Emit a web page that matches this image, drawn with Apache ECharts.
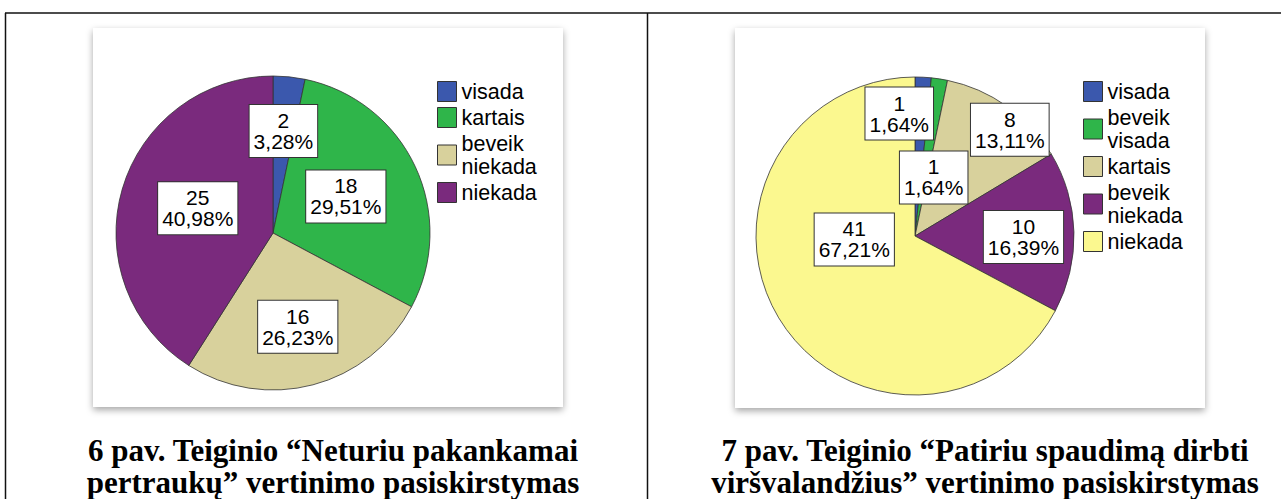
<!DOCTYPE html>
<html><head><meta charset="utf-8">
<script src="https://cdn.jsdelivr.net/npm/echarts@6/dist/echarts.min.js"></script>
<style>html,body{margin:0;padding:0;background:#fff}#c{width:1281px;height:499px}</style>
</head><body><div id="c"></div>
<script>
// ---- data ----
const categories1 = ['visada', 'kartais', 'beveik niekada', 'niekada'];
const values1 = [2, 18, 16, 25];
const categories2 = ['visada', 'beveik visada', 'kartais', 'beveik niekada', 'niekada'];
const values2 = [1, 1, 8, 10, 41];
const caption1 = ['6 pav. Teiginio “Neturiu pakankamai', 'pertraukų” vertinimo pasiskirstymas'];
const caption2 = ['7 pav. Teiginio “Patiriu spaudimą dirbti', 'viršvalandžius” vertinimo pasiskirstymas'];

// ---- styles / layout ----
const colors1 = ['#3b58ad', '#2fb54a', '#d8d19c', '#7a2a7d'];
const colors2 = ['#3b58ad', '#2fb54a', '#d8d19c', '#7a2a7d', '#fbf88f'];
const nudge1 = [[2, -21], [-1, -2], [4, 15], [3, -2]];
const nudge2 = [[-20, -40], [6, 23], [47, -39], [26, 3], [10, -39]];
const SANS = '"Liberation Sans", Arial, sans-serif';
const SERIF = '"Liberation Serif", "Times New Roman", serif';

function fmtPct(v, arr) {
  const total = arr.reduce((a, b) => a + b, 0);
  return (v / total * 100).toFixed(2).replace('.', ',');
}

function pieSeries(cats, vals, colors, nudge, center, radius) {
  return {
    type: 'pie',
    center: center,
    radius: radius,
    startAngle: 90,
    clockwise: true,
    silent: true,
    avoidLabelOverlap: false,
    data: cats.map((n, i) => ({ name: n, value: vals[i], itemStyle: { color: colors[i] } })),
    itemStyle: { borderColor: '#333', borderWidth: 0.8 },
    label: {
      show: true,
      position: 'inside',
      formatter: p => p.value + '\n' + fmtPct(p.value, vals) + '%',
      fontFamily: SANS,
      fontSize: 21,
      lineHeight: 21,
      color: '#000',
      backgroundColor: '#fff',
      borderColor: '#333',
      borderWidth: 1,
      padding: [5, 4, 5, 4],
      align: 'center'
    },
    labelLine: { show: false },
    labelLayout: p => ({ dx: nudge[p.dataIndex][0], dy: nudge[p.dataIndex][1] }),
    emphasis: { disabled: true }
  };
}

function legendCfg(cats, colors, left, top) {
  return {
    orient: 'vertical',
    left: left,
    top: top,
    padding: 0,
    itemGap: 3,
    itemWidth: 19,
    itemHeight: 20,
    icon: 'rect',
    selectedMode: false,
    formatter: n => n.replace(' ', '\n'),
    textStyle: { fontFamily: SANS, fontSize: 21.5, lineHeight: 23, color: '#000' },
    data: cats.map((n, i) => ({ name: n, itemStyle: { color: colors[i], borderColor: '#333', borderWidth: 1 } }))
  };
}

const chart = echarts.init(document.getElementById('c'), null, { renderer: 'svg' });
chart.setOption({
  animation: false,
  backgroundColor: '#fff',
  graphic: [
    { type: 'rect', z: -10, shape: { x: 93, y: 28, width: 470, height: 379 },
      style: { fill: '#fff', shadowBlur: 7, shadowOffsetY: 3, shadowColor: 'rgba(0,0,0,0.35)' } },
    { type: 'rect', z: -10, shape: { x: 735, y: 28, width: 470, height: 380 },
      style: { fill: '#fff', shadowBlur: 7, shadowOffsetY: 3, shadowColor: 'rgba(0,0,0,0.35)' } },
    { type: 'line', shape: { x1: 5, y1: 13, x2: 1281, y2: 13 }, style: { stroke: '#111', lineWidth: 1.5 } },
    { type: 'line', shape: { x1: 5.5, y1: 13, x2: 5.5, y2: 499 }, style: { stroke: '#111', lineWidth: 1.5 } },
    { type: 'line', shape: { x1: 647.5, y1: 13, x2: 647.5, y2: 499 }, style: { stroke: '#111', lineWidth: 1.5 } },
    { type: 'text', x: 333, y: 434,
      style: { text: caption1.join('\n'), font: 'bold 31px ' + SERIF, fill: '#000', textAlign: 'center', textVerticalAlign: 'top', lineHeight: 32 } },
    { type: 'text', x: 985, y: 434,
      style: { text: caption2.join('\n'), font: 'bold 31px ' + SERIF, fill: '#000', textAlign: 'center', textVerticalAlign: 'top', lineHeight: 32 } }
  ],
  legend: [
    legendCfg(categories1, colors1, 437, 80),
    legendCfg(categories2, colors2, 1083, 80)
  ],
  series: [
    pieSeries(categories1, values1, colors1, nudge1, [273, 233], 157),
    pieSeries(categories2, values2, colors2, nudge2, [915, 236], 159)
  ]
});
</script>
</body></html>
